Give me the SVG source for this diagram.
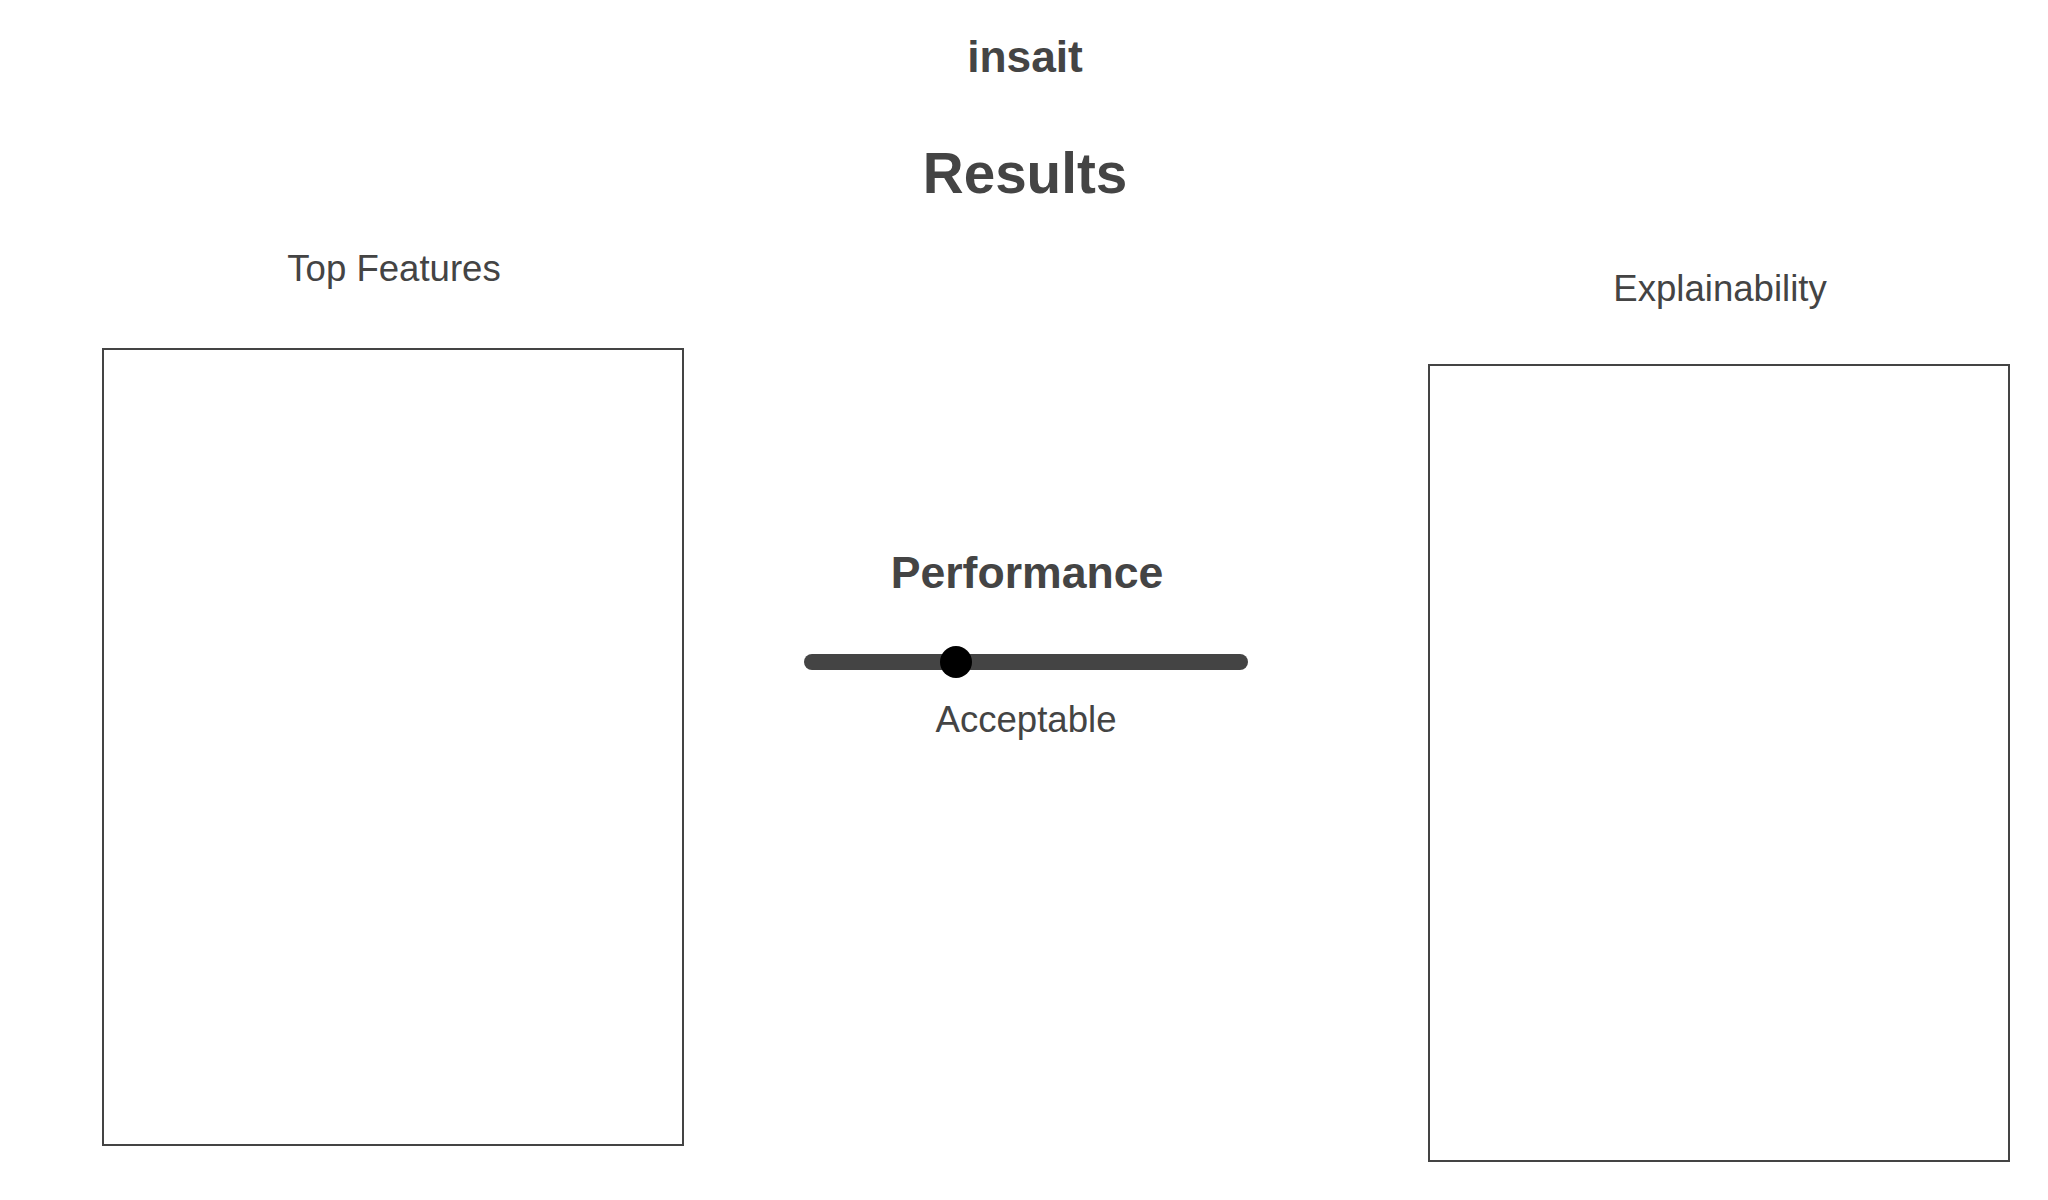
<svg xmlns="http://www.w3.org/2000/svg" width="2048" height="1200" viewBox="0 0 2048 1200">
<style>
  text { font-family: "Liberation Sans", Arial, sans-serif; fill: #444444; text-anchor: middle; }
  .bold { font-weight: bold; }
  .label { font-size: 36.6px; }
  .panel { fill: #ffffff; stroke: #444444; stroke-width: 2; }
</style>
<rect x="0" y="0" width="2048" height="1200" fill="#ffffff"/>
<g id="header">
  <text class="bold" x="1025" y="72" font-size="44.3">insait</text>
  <text class="bold" x="1025" y="193" font-size="56.6">Results</text>
</g>
<g id="top-features">
  <text class="label" x="394" y="281">Top Features</text>
  <rect class="panel" x="103" y="349" width="580" height="796"/>
</g>
<g id="performance">
  <text class="bold" x="1027" y="588" font-size="44.6">Performance</text>
  <line x1="812" y1="662" x2="1240" y2="662" stroke="#444444" stroke-width="16" stroke-linecap="round"/>
  <circle cx="956" cy="662" r="16" fill="#000000"/>
  <text class="label" x="1026" y="732">Acceptable</text>
</g>
<g id="explainability">
  <text class="label" x="1720" y="301">Explainability</text>
  <rect class="panel" x="1429" y="365" width="580" height="796"/>
</g>
<g id="connectors"></g>
</svg>
